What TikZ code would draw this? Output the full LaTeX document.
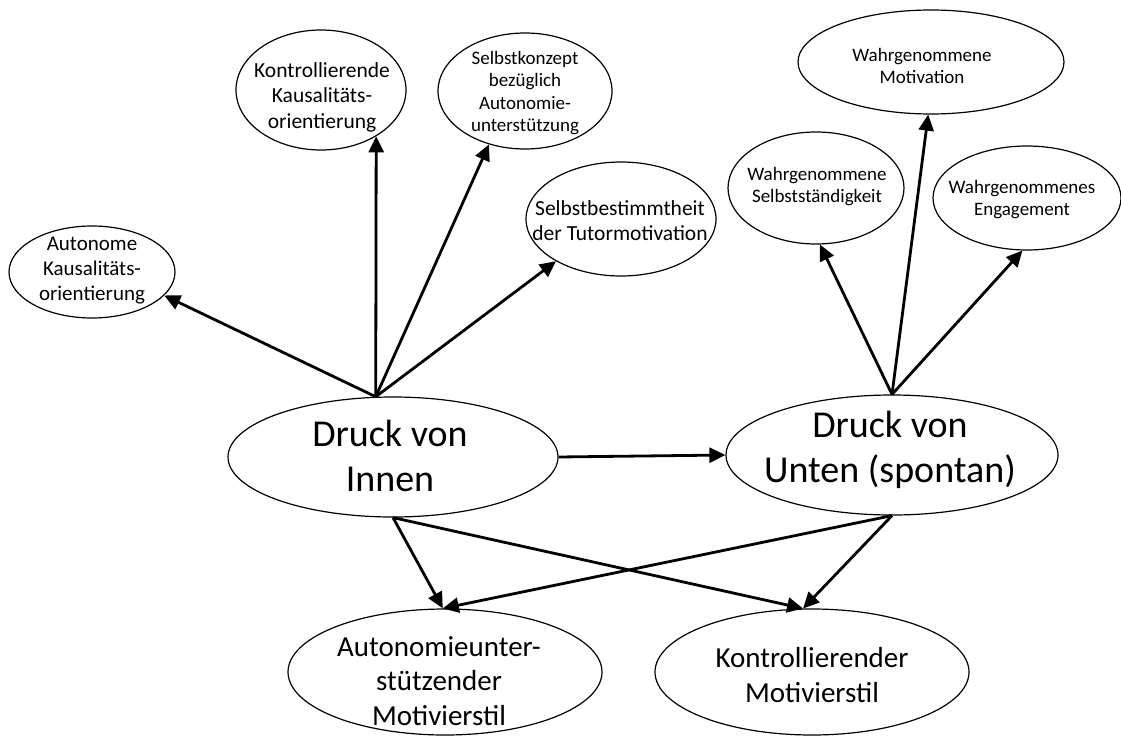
\documentclass[tikz,border=0pt]{standalone}
\usepackage{fontspec}
\setmainfont{Carlito}
\usetikzlibrary{arrows.meta, shapes.geometric}

\begin{document}
\begin{tikzpicture}[x=1pt, y=-1pt,
    blob/.style={draw, ellipse, line width=1.2pt, inner sep=0pt},
    txt/.style={align=center, inner sep=0pt},
    pfeil/.style={-{Triangle[length=16pt, width=15pt]}, line width=2.8pt}]
  \useasboundingbox (0,0) rectangle (1121,736);

  % Ellipsen
  \node[blob, minimum width=166pt, minimum height=92pt]  (autonom)    at (92,272)  {};
  \node[blob, minimum width=170pt, minimum height=120pt] (kontrkaus)  at (321,90)  {};
  \node[blob, minimum width=174pt, minimum height=116pt] (selbstkonz) at (525,91)  {};
  \node[blob, minimum width=190pt, minimum height=114pt] (selbstbest) at (621,219) {};
  \node[blob, minimum width=266pt, minimum height=104pt] (motivation) at (931,62)  {};
  \node[blob, minimum width=176pt, minimum height=112pt] (staendig)   at (816,188) {};
  \node[blob, minimum width=188pt, minimum height=104pt] (engagement) at (1027,198) {};
  \node[blob, minimum width=330pt, minimum height=120pt] (innen)      at (393,457) {};
  \node[blob, minimum width=332pt, minimum height=120pt] (unten)      at (892,455) {};
  \node[blob, minimum width=314pt, minimum height=126pt] (autonomie)  at (445,672) {};
  \node[blob, minimum width=314pt, minimum height=126pt] (kontrstil)  at (812,672) {};

  % Texte
  \node[txt, font=\fontsize{21}{25}\selectfont] (autonom-t) at (92,271)
    {Autonome\\Kausalitäts-\\orientierung};
  \node[txt, font=\fontsize{21.5}{25.5}\selectfont] (kontrkaus-t) at (322,97)
    {Kontrollierende\\Kausalitäts-\\orientierung};
  \node[txt, font=\fontsize{19}{22.5}\selectfont] (selbstkonz-t) at (525,93)
    {Selbstkonzept\\bezüglich\\Autonomie-\\unterstützung};
  \node[txt, font=\fontsize{21.5}{25}\selectfont] (selbstbest-t) at (620,221)
    {Selbstbestimmtheit\\der Tutormotivation};
  \node[txt, font=\fontsize{19}{22}\selectfont] (motivation-t) at (922,66)
    {Wahrgenommene\\Motivation};
  \node[txt, font=\fontsize{19}{22}\selectfont] (staendig-t) at (817,187)
    {Wahrgenommene\\Selbstständigkeit};
  \node[txt, font=\fontsize{19}{22}\selectfont] (engagement-t) at (1022,200)
    {Wahrgenommenes\\Engagement};
  \node[txt, font=\fontsize{38}{45}\selectfont] (innen-t) at (390,456)
    {Druck von\\Innen};
  \node[txt, font=\fontsize{38}{45}\selectfont] (unten-t) at (890,450)
    {Druck von\\Unten (spontan)};
  \node[txt, font=\fontsize{29}{34.5}\selectfont] (autonomie-t) at (439,681)
    {Autonomieunter-\\stützender\\Motivierstil};
  \node[txt, font=\fontsize{29}{35}\selectfont] (kontrstil-t) at (812,675)
    {Kontrollierender\\Motivierstil};

  % Pfeile
  \coordinate (innentop) at (innen.106);
  \foreach \ziel/\anker in {autonom/-18, kontrkaus/-40, selbstkonz/-124, selbstbest/-147}
    \draw[pfeil] (innentop) -- (\ziel.\anker);
  \foreach \ziel/\anker in {staendig/-86, motivation/-93, engagement/-95}
    \draw[pfeil] (unten.north) -- (\ziel.\anker);
  \draw[pfeil] (innen.east) -- (unten.west);
  \draw[pfeil] (innen.south) -- (autonomie.92);
  \draw[pfeil] (innen.south) -- (kontrstil.98);
  \draw[pfeil] (unten.south) -- (autonomie.92);
  \draw[pfeil] (unten.south) -- (kontrstil.98);
\end{tikzpicture}
\end{document}
